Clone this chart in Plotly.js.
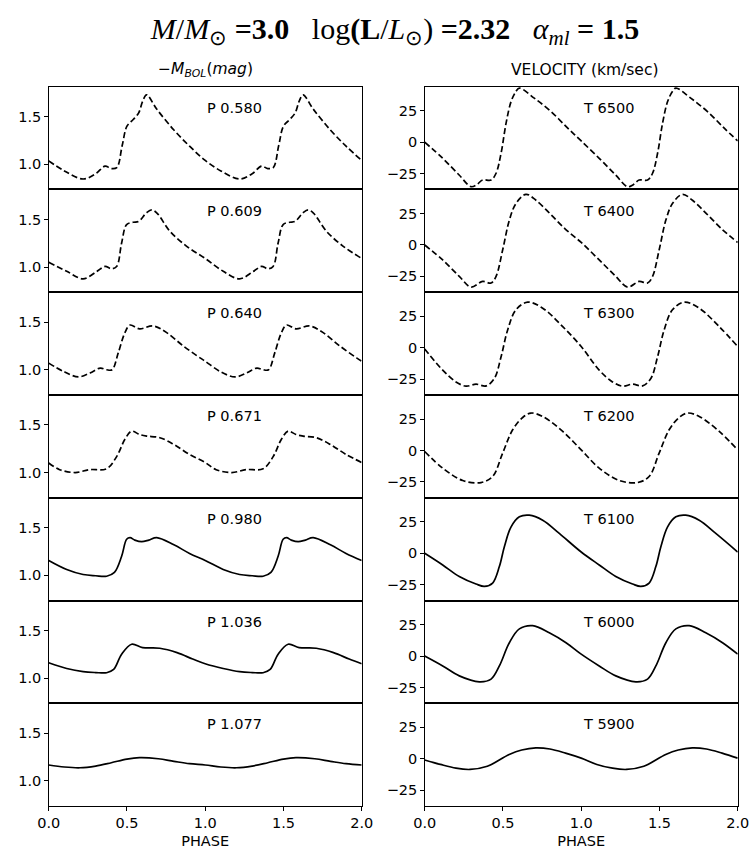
<!DOCTYPE html>
<html><head><meta charset="utf-8">
<script src="https://cdn.plot.ly/plotly-3.0.1.min.js"></script>
<style>html,body{margin:0;padding:0;background:#fff}</style>
</head><body><div id="chart" style="width:752px;height:854px"></div>
<script>
// ---- Data: one pulsation cycle per model (phase 0..1), plotted twice ----
const leftLabels  = ['P 0.580','P 0.609','P 0.640','P 0.671','P 0.980','P 1.036','P 1.077'];
const rightLabels = ['T 6500','T 6400','T 6300','T 6200','T 6100','T 6000','T 5900'];

// -M_BOL (mag)
const phP580 = [0, 0.1, 0.22, 0.3, 0.36, 0.4, 0.435, 0.47, 0.5, 0.54, 0.575, 0.6, 0.625, 0.69, 0.8, 0.9, 1.0];
const mbP580 = [1.035, 0.93, 0.845, 0.9, 0.98, 0.955, 0.965, 1.2, 1.4, 1.47, 1.54, 1.66, 1.73, 1.58, 1.36, 1.19, 1.04];
const phP609 = [0, 0.115, 0.22, 0.307, 0.36, 0.40, 0.434, 0.466, 0.498, 0.54, 0.575, 0.625, 0.658, 0.69, 0.775, 0.88, 1.0];
const mbP609 = [1.05, 0.955, 0.876, 0.953, 1.006, 0.982, 1.006, 1.253, 1.446, 1.47, 1.48, 1.57, 1.6, 1.57, 1.375, 1.22, 1.09];
const phP640 = [0, 0.094, 0.19, 0.264, 0.33, 0.37, 0.405, 0.445, 0.487, 0.52, 0.58, 0.668, 0.754, 0.86, 0.967, 1.0];
const mbP640 = [1.07, 0.983, 0.925, 0.966, 1.018, 1.0, 1.0, 1.18, 1.39, 1.47, 1.43, 1.46, 1.39, 1.25, 1.125, 1.09];
const phP671 = [0, 0.07, 0.17, 0.26, 0.37, 0.435, 0.487, 0.53, 0.58, 0.626, 0.71, 0.8, 0.9, 1.0];
const mbP671 = [1.10, 1.03, 1.0, 1.03, 1.04, 1.17, 1.35, 1.435, 1.40, 1.383, 1.366, 1.295, 1.19, 1.105];
const phP980 = [0, 0.115, 0.22, 0.3, 0.37, 0.42, 0.466, 0.498, 0.52, 0.55, 0.594, 0.64, 0.69, 0.8, 0.9, 1.0];
const mbP980 = [1.156, 1.061, 1.008, 0.995, 0.99, 1.03, 1.2, 1.378, 1.395, 1.37, 1.353, 1.37, 1.395, 1.32, 1.23, 1.156];
const phP1036 = [0, 0.115, 0.22, 0.3, 0.37, 0.415, 0.466, 0.53, 0.6, 0.71, 0.82, 0.92, 1.0];
const mbP1036 = [1.16, 1.10, 1.067, 1.058, 1.056, 1.09, 1.25, 1.355, 1.32, 1.313, 1.267, 1.2, 1.15];
const phP1077 = [0, 0.1, 0.2, 0.3, 0.4, 0.5, 0.58, 0.7, 0.8, 0.9, 1.0];
const mbP1077 = [1.166, 1.145, 1.137, 1.155, 1.19, 1.228, 1.243, 1.232, 1.205, 1.18, 1.166];

// Velocity (km/sec)
const phT6500 = [0, 0.115, 0.22, 0.296, 0.33, 0.37, 0.424, 0.456, 0.488, 0.52, 0.552, 0.583, 0.605, 0.7, 0.807, 0.914, 1.0];
const vT6500  = [0, -12.8, -26.1, -35.4, -34, -30.1, -30.1, -24.7, -8.8, 15.2, 32.4, 40.4, 43.1, 35.1, 24.4, 11.2, 1];
const phT6400 = [0, 0.115, 0.221, 0.296, 0.37, 0.424, 0.456, 0.498, 0.541, 0.583, 0.647, 0.711, 0.8, 0.9, 1.0];
const vT6400  = [0, -11.9, -25, -33.5, -29, -30.3, -25, -4, 19.8, 33, 40.3, 35.6, 25, 12.5, 2];
const phT6300 = [0, 0.115, 0.2, 0.264, 0.328, 0.392, 0.445, 0.488, 0.53, 0.583, 0.658, 0.754, 0.882, 1.0];
const vT6300  = [-1, -17.8, -27.2, -30.6, -29, -30.4, -24.5, -7.2, 14.2, 30.2, 36.3, 31.5, 16.8, 1];
const phT6200 = [0, 0.115, 0.243, 0.36, 0.434, 0.498, 0.562, 0.626, 0.679, 0.754, 0.882, 1.0];
const vT6200  = [-0.8, -14, -23.9, -25.5, -20.7, -2.1, 16.5, 26.3, 29.8, 27.1, 15.2, 0.5];
const phT6100 = [0, 0.115, 0.221, 0.328, 0.381, 0.434, 0.477, 0.509, 0.552, 0.605, 0.668, 0.754, 0.86, 1.0];
const vT6100  = [0, -9.3, -18.5, -24.5, -26.4, -23.7, -10.6, 5.2, 21, 29, 30.3, 26.3, 15.8, 1];
const phT6000 = [0, 0.115, 0.221, 0.349, 0.424, 0.477, 0.541, 0.605, 0.69, 0.796, 0.903, 1.0];
const vT6000  = [0, -7.9, -15.8, -20.5, -18.4, -7.9, 10.6, 21.6, 24.2, 18.5, 10.6, 1.5];
const phT5900 = [0, 0.1, 0.2, 0.29, 0.4, 0.54, 0.62, 0.71, 0.8, 0.9, 1.0];
const vT5900  = [-1, -4.5, -7.5, -8.5, -6, 3.4, 7, 8.7, 7.8, 4.5, 0.5];

const leftSeries  = [[phP580,mbP580],[phP609,mbP609],[phP640,mbP640],[phP671,mbP671],[phP980,mbP980],[phP1036,mbP1036],[phP1077,mbP1077]];
const rightSeries = [[phT6500,vT6500],[phT6400,vT6400],[phT6300,vT6300],[phT6200,vT6200],[phT6100,vT6100],[phT6000,vT6000],[phT5900,vT5900]];
const dashedRows = 4;

// two cycles: phase and phase+1
function twoCycles(ph, v) {
  return { x: ph.concat(ph.slice(1).map(p => p + 1)), y: v.concat(v.slice(1)) };
}

const W = 752, H = 854;
const FONT = 'DejaVu Sans, sans-serif';
const FS = 14.5;
const rowTop = 86.7, rowH = 102.76;
const colX = [[48.7, 361.7], [424.7, 737.7]];
const traces = [], layout = {
  width: W, height: H, margin: {l: 0, r: 0, t: 0, b: 0},
  paper_bgcolor: '#fff', plot_bgcolor: '#fff', showlegend: false,
  font: {family: FONT, size: FS, color: '#000'},
  title: {
    text: '<i>M</i>/<i>M</i><sub>⊙</sub> <b>=3.0</b>\u00a0\u00a0 log<b>(L</b>/<i>L</i><sub>⊙</sub>) <b>=2.32</b>\u00a0\u00a0 <i>α<sub>ml</sub></i> <b>= 1.5</b>',
    font: {family: 'Liberation Serif, serif', size: 30, color: '#000'},
    x: 395 / W, xanchor: 'center', y: 1 - 28 / H, yanchor: 'middle'
  },
  annotations: []
};

for (let r = 0; r < 7; r++) {
  const top = rowTop + r * rowH, bot = top + rowH;
  for (let c = 0; c < 2; c++) {
    const i = r * 2 + c + 1;
    const xa = 'xaxis' + (i === 1 ? '' : i), ya = 'yaxis' + (i === 1 ? '' : i);
    const xr = 'x' + (i === 1 ? '' : i), yr = 'y' + (i === 1 ? '' : i);
    const s = (c === 0 ? leftSeries : rightSeries)[r];
    const d = twoCycles(s[0], s[1]);
    traces.push({
      x: d.x, y: d.y, xaxis: xr, yaxis: yr, type: 'scatter', mode: 'lines',
      line: {color: '#000', width: 1.7, shape: 'spline', smoothing: 1.0,
             dash: r < dashedRows ? '6px,3px' : 'solid'},
      hoverinfo: 'skip'
    });
    const last = r === 6;
    layout[xa] = {
      domain: [colX[c][0] / W, colX[c][1] / W], range: [0, 2], anchor: yr,
      showline: true, mirror: true, linecolor: '#000', linewidth: 1,
      showgrid: false, zeroline: false,
      ticks: last ? 'outside' : '', ticklen: 3.5, tickwidth: 1, tickcolor: '#000',
      tickvals: [0, 0.5, 1, 1.5, 2], ticktext: ['0.0','0.5','1.0','1.5','2.0'],
      showticklabels: last, tickfont: {family: FONT, size: FS}
    };
    if (last) layout[xa].title = {text: 'PHASE', font: {family: FONT, size: FS}, standoff: 5};
    layout[ya] = {
      domain: [1 - bot / H, 1 - top / H], anchor: xr,
      range: c === 0 ? [0.735, 1.815] : [-37.6, 44.2],
      showline: true, mirror: true, linecolor: '#000', linewidth: 1,
      showgrid: false, zeroline: false,
      ticks: 'outside', ticklen: 3.5, tickwidth: 1, tickcolor: '#000',
      tickvals: c === 0 ? [1.0, 1.5] : [-25, 0, 25],
      ticktext: c === 0 ? ['1.0', '1.5'] : ['\u221225', '0', '25'],
      tickfont: {family: FONT, size: FS}
    };
    layout.annotations.push({
      text: (c === 0 ? leftLabels : rightLabels)[r],
      xref: xr, yref: yr + ' domain', x: 1.0, y: 0.795,
      xanchor: 'left', yanchor: 'middle', showarrow: false,
      font: {family: FONT, size: FS, color: '#000'}
    });
  }
}
layout.annotations.push({
  text: '\u2212<i>M</i><sub><i>BOL</i></sub>(<i>mag</i>)', xref: 'paper', yref: 'paper',
  x: 205 / W, y: 1 - 70 / H, xanchor: 'center', yanchor: 'middle', showarrow: false,
  font: {family: FONT, size: 15.5, color: '#000'}
});
layout.annotations.push({
  text: 'VELOCITY (km/sec)', xref: 'paper', yref: 'paper',
  x: 584 / W, y: 1 - 70 / H, xanchor: 'center', yanchor: 'middle', showarrow: false,
  font: {family: FONT, size: 15.5, color: '#000'}
});

Plotly.newPlot('chart', traces, layout, {staticPlot: true, displayModeBar: false});
</script></body></html>
